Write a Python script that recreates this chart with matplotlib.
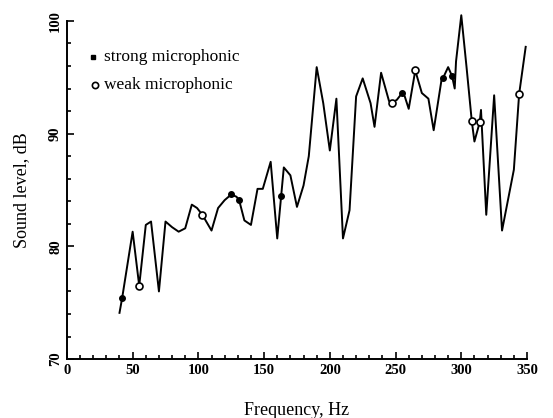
import matplotlib.pyplot as plt
import numpy as np
from matplotlib.ticker import MultipleLocator

# data
freq = [40, 42, 50, 55, 60, 64, 70, 75, 80, 85, 90, 95, 99, 103, 110, 115,
        120, 125, 129, 131, 135, 140, 145, 149, 155, 160, 163, 165, 170, 175,
        180, 184, 190, 195, 200, 205, 210, 215, 220, 225, 231, 234, 239, 245,
        247, 251, 255, 257, 260, 265, 270, 275, 279, 285, 286, 290, 293, 295,
        296, 300, 304, 308, 310, 314, 315, 319, 325, 331, 340, 344, 349]
level = [74.1, 75.4, 81.3, 76.5, 81.9, 82.2, 76.0, 82.2, 81.7, 81.3, 81.6,
         83.7, 83.4, 82.8, 81.4, 83.4, 84.1, 84.6, 84.4, 84.1, 82.3, 81.9,
         85.1, 85.1, 87.5, 80.7, 84.5, 87.0, 86.3, 83.5, 85.4, 88.0, 95.9,
         92.7, 88.5, 93.1, 80.7, 83.2, 93.3, 94.9, 92.7, 90.6, 95.4, 92.9,
         92.7, 93.0, 93.6, 93.3, 92.2, 95.6, 93.6, 93.1, 90.3, 94.8, 94.9,
         95.9, 95.1, 94.0, 96.4, 100.5, 95.9, 91.1, 89.3, 91.0, 92.1, 82.8,
         93.4, 81.4, 86.8, 93.5, 97.7]

strong_f = [42, 125, 131, 163, 255, 286, 293]
strong_l = [75.4, 84.6, 84.1, 84.5, 93.6, 94.9, 95.1]
weak_f = [55, 103, 247, 265, 308, 314, 344]
weak_l = [76.5, 82.8, 92.7, 95.6, 91.1, 91.0, 93.5]

plt.rcParams['font.family'] = ['Liberation Serif', 'DejaVu Serif']

fig = plt.figure(figsize=(5.53, 4.18), dpi=100)
ax = fig.add_axes([0.121, 0.141, 0.832, 0.809])

ax.plot(freq, level, color='black', lw=1.4, clip_on=False, zorder=2)
ax.plot(strong_f, strong_l, 'o', color='black', ms=4, clip_on=False, zorder=3)
ax.plot(weak_f, weak_l, 'o', mfc='white', mec='black', mew=1.2, ms=5,
        clip_on=False, zorder=3)

ax.set_xlim(0, 350)
ax.set_ylim(70, 100)
ax.xaxis.set_major_locator(MultipleLocator(50))
ax.xaxis.set_minor_locator(MultipleLocator(10))
ax.yaxis.set_major_locator(MultipleLocator(10))
ax.yaxis.set_minor_locator(MultipleLocator(2))
ax.tick_params(which='both', direction='in', width=1.2)
ax.tick_params(which='major', length=5, labelsize=10.5)
ax.tick_params(which='minor', length=3)
for lab in ax.get_xticklabels() + ax.get_yticklabels():
    lab.set_fontweight('bold')
for lab in ax.get_yticklabels():
    lab.set_rotation(90)
    lab.set_va('center')

for s in ['top', 'right']:
    ax.spines[s].set_visible(False)
for s in ['left', 'bottom']:
    ax.spines[s].set_linewidth(1.4)

# legend drawn by hand like the original
ax.plot([19.5], [96.8], 's', color='black', ms=3.5)
ax.plot([21], [94.3], 'o', mfc='white', mec='black', mew=1.2, ms=4.5)
ax.text(28, 96.8, 'strong microphonic', fontsize=12.5, va='center')
ax.text(28, 94.3, 'weak microphonic', fontsize=12.5, va='center')

ax.set_xlabel('Frequency, Hz', fontsize=13, labelpad=18)
ax.set_ylabel('Sound level, dB', fontsize=13, labelpad=14)

plt.savefig('out.png', dpi=100)
